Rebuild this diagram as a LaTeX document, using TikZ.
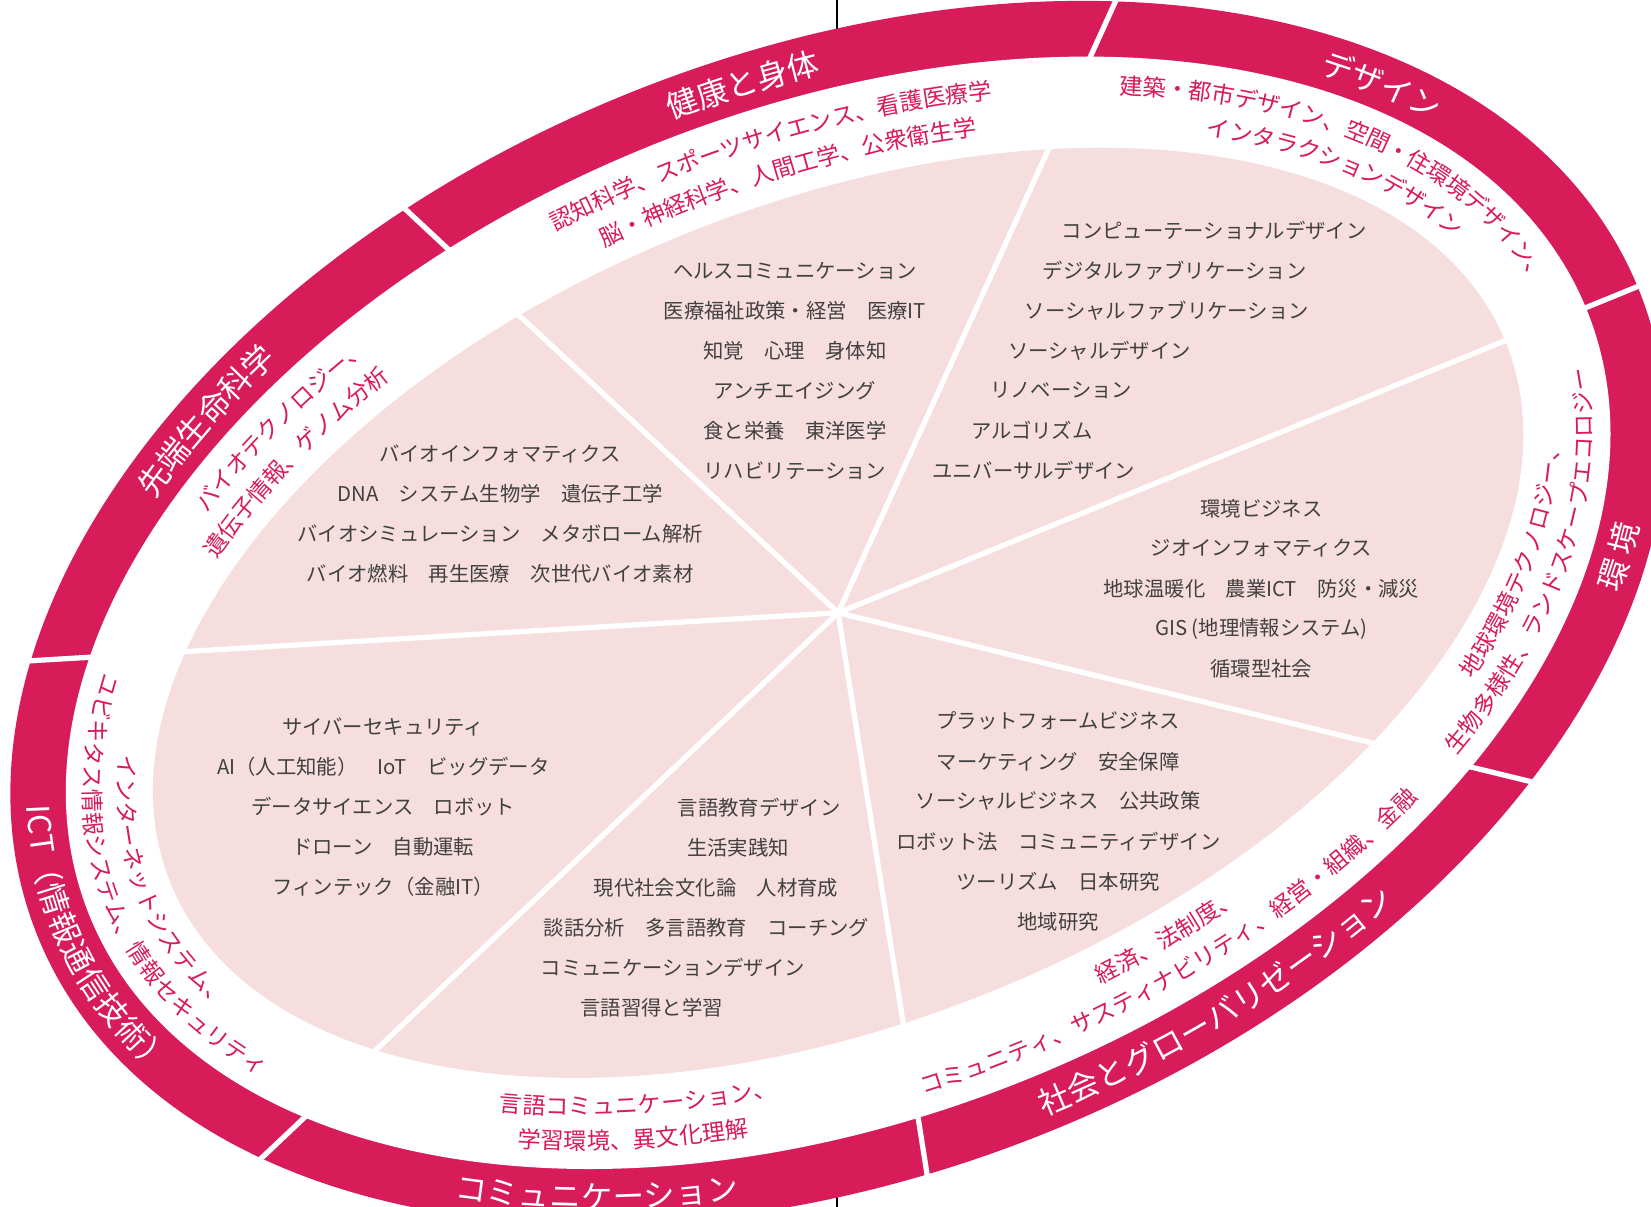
\documentclass[tikz,border=0pt]{standalone}
\usepackage{fontspec}
\newfontfamily\jpfont{Noto Sans CJK JP}
\usetikzlibrary{decorations.text}
\definecolor{crimson}{RGB}{216,28,90}
\definecolor{petal}{RGB}{247,222,222}
\definecolor{ink}{RGB}{64,64,64}
\newcommand\ringfmt{\jpfont\fontsize{17pt}{17pt}\selectfont\color{white}}
\newcommand\subfmt{\jpfont\fontsize{12.5pt}{12.5pt}\selectfont\color{crimson}}

\begin{document}
\begin{tikzpicture}[x=0.02cm,y=0.02cm,
  ray/.style={white,line width=0.1cm},
  body/.style={inner sep=0pt,text=ink,font=\jpfont\fontsize{11pt}{11pt}\selectfont},
  ringlabel/.style={decorate,decoration={text along path,text align=center,raise=-6.5pt,text={|\ringfmt|#1}}},
  sublabel/.style={decorate,decoration={text along path,text align=center,raise=-4.75pt,text={|\subfmt|#1}}}]
 \useasboundingbox (0,0) rectangle (1568,1146);
 \clip (0,0) rectangle (1568,1146);
 \draw[black,line width=0.03cm] (795,1146) -- (795,0);
 \coordinate (c) at (796,564);
 \begin{scope}[shift={(c)},rotate=22]
  \fill[crimson] (0,0) ellipse [x radius=820,y radius=532];
  \fill[white] (0,0) ellipse [x radius=767,y radius=478];
  \fill[petal] (0,0) ellipse [x radius=684,y radius=388];
 \end{scope}
 \foreach \a in {137,65.6,22.2,-13.7,-81,223.4,183.4}
  \draw[ray] (c) -- ++(\a:1000);

 % sector texts
 \foreach \t [count=\i] in {ヘルスコミュニケーション,医療福祉政策・経営　医療IT,知覚　心理　身体知,アンチエイジング,食と栄養　東洋医学,リハビリテーション}
  \node[body] (health\i) at (755,{927-38*\i}) {\t};
 \foreach \x/\t [count=\i] in {1008/コンピューテーショナルデザイン,990/デジタルファブリケーション,973/ソーシャルファブリケーション,957/ソーシャルデザイン,940/リノベーション,922/アルゴリズム,885/ユニバーサルデザイン}
  \node[body,anchor=west] (design\i) at (\x,{965-38*\i}) {\t};
 \foreach \t [count=\i] in {環境ビジネス,ジオインフォマティクス,地球温暖化　農業ICT　防災・減災,GIS (地理情報システム),循環型社会}
  \node[body] (env\i) at (1198,{701-38*\i}) {\t};
 \foreach \t [count=\i] in {プラットフォームビジネス,マーケティング　安全保障,ソーシャルビジネス　公共政策,ロボット法　コミュニティデザイン,ツーリズム　日本研究,地域研究}
  \node[body] (soc\i) at (1005,{499-38*\i}) {\t};
 \foreach \x/\t [count=\i] in {721/言語教育デザイン,701/生活実践知,680/現代社会文化論　人材育成,671/談話分析　多言語教育　コーチング,639/コミュニケーションデザイン,619/言語習得と学習}
  \node[body] (comm\i) at (\x,{417-38*\i}) {\t};
 \foreach \t [count=\i] in {サイバーセキュリティ,AI（人工知能）　IoT　ビッグデータ,データサイエンス　ロボット,ドローン　自動運転,フィンテック（金融IT）}
  \node[body] (ict\i) at (364,{494-38*\i}) {\t};
 \foreach \t [count=\i] in {バイオインフォマティクス,DNA　システム生物学　遺伝子工学,バイオシミュレーション　メタボローム解析,バイオ燃料　再生医療　次世代バイオ素材}
  \node[body] (bio\i) at (475,{753-38*\i}) {\t};

 % ring and band labels
 \begin{scope}[shift={(c)},rotate=22]
  \path[ringlabel=健康と身体] (98.2:793 and 505) arc[start angle=98.2,end angle=66.4,x radius=793,y radius=505];
  \path[ringlabel=デザイン] (47.6:793 and 505) arc[start angle=47.6,end angle=15.7,x radius=793,y radius=505];
  \path[ringlabel=環 境] (-39.2:793 and 505) arc[start angle=-39.2,end angle=-13.3,x radius=793,y radius=505];
  \path[ringlabel=社会とグローバリゼーション] (-100:793 and 505) arc[start angle=-100,end angle=-49.8,x radius=793,y radius=505];
  \path[ringlabel=コミュニケーション] (216.5:793 and 505) arc[start angle=216.5,end angle=257.2,x radius=793,y radius=505];
  \path[ringlabel=ICT（情報通信技術）] (156:793 and 505) arc[start angle=156,end angle=209,x radius=793,y radius=505];
  \path[ringlabel=先端生命科学] (148.1:793 and 505) arc[start angle=148.1,end angle=110.5,x radius=793,y radius=505];

  \path[sublabel=認知科学、スポーツサイエンス、看護医療学] (108.7:742 and 450) arc[start angle=108.7,end angle=53.8,x radius=742,y radius=450];
  \path[sublabel=脳・神経科学、人間工学、公衆衛生学] (106.5:710 and 416) arc[start angle=106.5,end angle=54.4,x radius=710,y radius=416];
  \path[sublabel=建築・都市デザイン、空間・住環境デザイン、] (61:742 and 450) arc[start angle=61,end angle=-5,x radius=742,y radius=450];
  \path[sublabel=インタラクションデザイン] (54.4:710 and 416) arc[start angle=54.4,end angle=3.3,x radius=710,y radius=416];
  \path[sublabel=地球環境テクノロジー、] (-51.3:710 and 416) arc[start angle=-51.3,end angle=-0.6,x radius=710,y radius=416];
  \path[sublabel=生物多様性、ランドスケープエコロジー] (-56.4:742 and 450) arc[start angle=-56.4,end angle=4.9,x radius=742,y radius=450];
  \path[sublabel=経済、法制度、] (-92.2:710 and 416) arc[start angle=-92.2,end angle=-58.5,x radius=710,y radius=416];
  \path[sublabel=コミュニティ、サスティナビリティ、経営・組織、金融] (-105.4:742 and 450) arc[start angle=-105.4,end angle=-44.2,x radius=742,y radius=450];
  \path[sublabel=言語コミュニケーション、] (217.4:710 and 416) arc[start angle=217.4,end angle=260.6,x radius=710,y radius=416];
  \path[sublabel=学習環境、異文化理解] (219.7:742 and 450) arc[start angle=219.7,end angle=258.7,x radius=742,y radius=450];
  \path[sublabel=インターネットシステム、] (151.9:710 and 416) arc[start angle=151.9,end angle=207.8,x radius=710,y radius=416];
  \path[sublabel=ユビキタス情報システム、情報セキュリティ] (146:742 and 450) arc[start angle=146,end angle=213.3,x radius=742,y radius=450];
  \path[sublabel=バイオテクノロジー、] (145.8:742 and 450) arc[start angle=145.8,end angle=106.8,x radius=742,y radius=450];
  \path[sublabel=遺伝子情報、ゲノム分析] (151:710 and 416) arc[start angle=151,end angle=106.5,x radius=710,y radius=416];
 \end{scope}
\end{tikzpicture}
\end{document}
